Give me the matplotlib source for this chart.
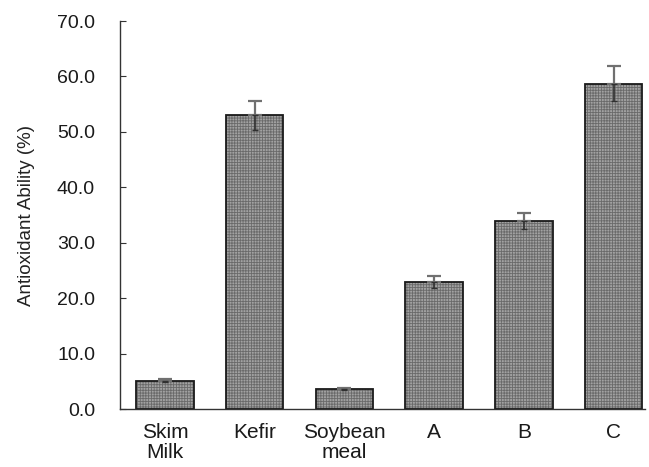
import matplotlib
matplotlib.use("Agg")
import matplotlib.pyplot as plt

# datos
samples = ["Skim\nMilk", "Kefir", "Soybean\nmeal", "A", "B", "C"]
values = [5.1, 53.0, 3.6, 22.9, 33.9, 58.7]
errors = [0.3, 2.6, 0.2, 1.1, 1.5, 3.1]

plt.rcParams["font.family"] = ["Liberation Sans", "DejaVu Sans"]
plt.rcParams["hatch.linewidth"] = 0.6

fig = plt.figure(figsize=(6.49, 4.67), dpi=100)
ax = fig.add_axes([0.185, 0.124, 0.809, 0.831])

x = list(range(len(samples)))
# relleno tramado + borde
ax.bar(x, values, width=0.64, color="#a2a2a2", edgecolor="#6a6a6a",
       linewidth=0, hatch="++++++", zorder=2)
ax.bar(x, values, width=0.64, fill=False, edgecolor="#1a1a1a",
       linewidth=1.3, zorder=2)

# barra de error: parte superior solida, inferior punteada
ax.errorbar(x, values, yerr=[[0] * len(errors), errors], fmt="none",
            ecolor="#707070", elinewidth=1.6, capsize=5, capthick=1.6, zorder=3)
ax.errorbar(x, values, yerr=[errors, [0] * len(errors)], fmt="none",
            ecolor="#303030", elinewidth=1.2, capsize=2.5, capthick=1.0,
            linestyle=":", zorder=3)

ax.set_xlim(-0.5, 5.35)
ax.set_ylim(0, 70)
ax.set_yticks(range(0, 71, 10))
ax.set_yticklabels([f"{v:.1f}" for v in range(0, 71, 10)])
ax.set_xticks(x)
ax.set_xticklabels(samples, linespacing=1.05)

ax.spines["top"].set_visible(False)
ax.spines["right"].set_visible(False)
for s in ("left", "bottom"):
    ax.spines[s].set_color("#333333")
    ax.spines[s].set_linewidth(1.0)

ax.tick_params(axis="y", direction="in", length=4, pad=18, labelsize=14,
               colors="#333333", labelcolor="#1a1a1a")
ax.tick_params(axis="x", length=0, pad=10, labelsize=15, labelcolor="#1a1a1a")
ax.set_ylabel("Antioxidant Ability (%)", fontsize=13.5, color="#222222", labelpad=16)

fig.savefig("out.png", dpi=100)
